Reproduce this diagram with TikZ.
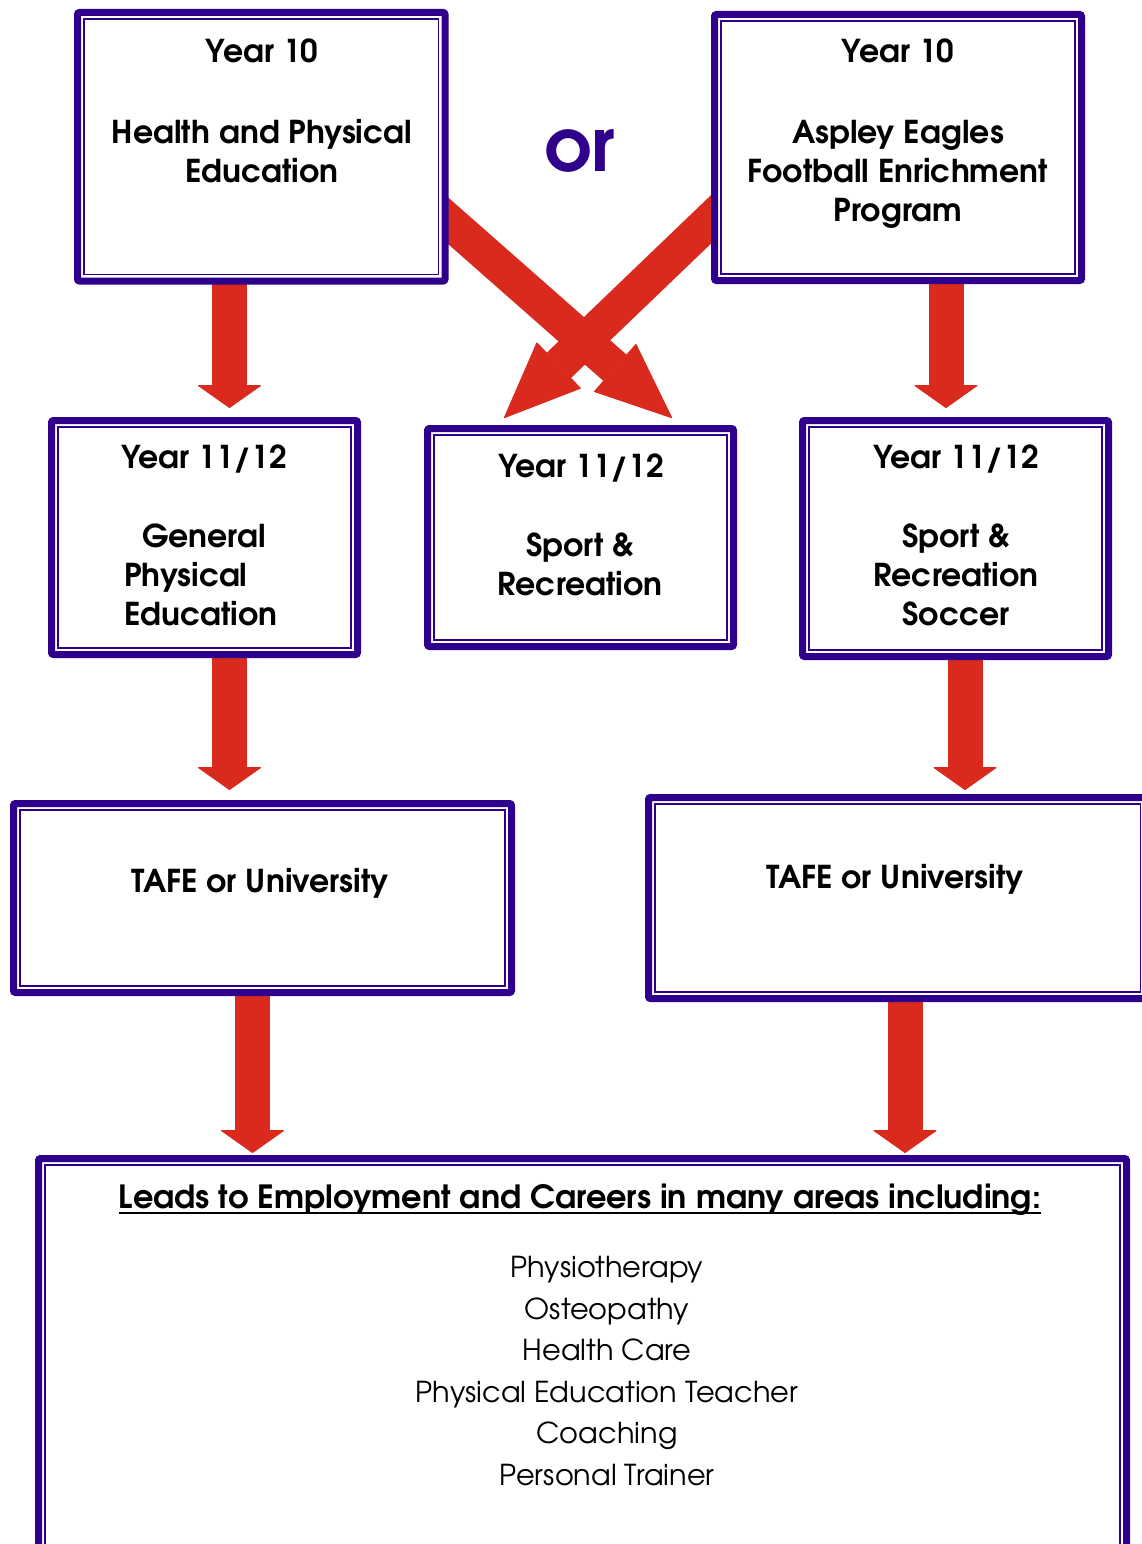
\documentclass[tikz,border=0pt]{standalone}
\usepackage{fontspec}
\setmainfont{TeX Gyre Adventor}
\usetikzlibrary{arrows.meta,backgrounds}
\definecolor{boxpurple}{RGB}{46,0,140}
\definecolor{arrowred}{RGB}{218,42,30}
\begin{document}
\begin{tikzpicture}[x=1pt,y=-1pt,
  box/.style={draw=boxpurple, line width=7pt, fill=white, rounded corners=2pt,
    inner sep=0pt, outer sep=0pt, anchor=north west},
  innerline/.style={draw=boxpurple, line width=1.8pt},
  bigarrow/.style={draw=arrowred, line width=35pt,
    -{Triangle[length=23pt,width=65pt,line width=1pt,round]}},
  crossarrow/.style={draw=arrowred, line width=35pt,
    -{Triangle[length=77pt,width=64pt,line width=1pt,round]}},
  lbl/.style={font=\bfseries\fontsize{31.5}{38}\selectfont, anchor=base, inner sep=0pt},
  lst/.style={font=\fontsize{28.8}{35}\selectfont, anchor=base, inner sep=0pt},
  ortext/.style={font=\bfseries\fontsize{74}{88}\selectfont, text=boxpurple, inner sep=0pt, anchor=base}
]
\useasboundingbox (0,0) rectangle (1142,1544);
\clip (0,0) rectangle (1142,1544);

% boxes
\node[box, minimum width=367.5pt, minimum height=268.5pt] (b1) at (77.5,12.5) {};
\node[box, minimum width=367pt, minimum height=266pt] (b2) at (714.5,14.5) {};
\node[box, minimum width=306pt, minimum height=234pt] (b3) at (51.5,420.5) {};
\node[box, minimum width=306pt, minimum height=218pt] (b4) at (427.5,428.5) {};
\node[box, minimum width=306pt, minimum height=236pt] (b5) at (802.5,420.5) {};
\node[box, minimum width=498pt, minimum height=189pt] (t1) at (13.5,803.5) {};
\node[box, minimum width=498.5pt, minimum height=201pt] (t2) at (648.5,797.5) {};
\node[box, minimum width=1088pt, minimum height=450pt] (bb) at (38.5,1158.5) {};

\foreach \n in {b1,b2,b3,b4,b5,t1,t2,bb}
  \draw[innerline] ([xshift=6.5pt,yshift=-6.5pt]\n.north west) rectangle ([xshift=-6.5pt,yshift=6.5pt]\n.south east);

% arrows
\coordinate (tipA) at (672,418);
\coordinate (tipB) at (504,418);
\begin{scope}[on background layer]
  \draw[bigarrow, shorten >=12.5pt] ([xshift=-31.75pt]b1.south) -- ([xshift=25pt]b3.north);
  \draw[bigarrow, shorten >=12.5pt] ([xshift=48pt]b2.south) -- ([xshift=-9.5pt]b5.north);
  \draw[bigarrow, shorten >=13.5pt] ([xshift=25pt]b3.south) -- ([xshift=-33pt]t1.north);
  \draw[bigarrow, shorten >=7.5pt] ([xshift=9.5pt]b5.south) -- ([xshift=67.25pt]t2.north);
  \draw[bigarrow, shorten >=5.5pt] ([xshift=-10pt]t1.south) -- ([xshift=-330pt]bb.north);
  \draw[bigarrow, shorten >=5.5pt] ([xshift=7.25pt]t2.south) -- ([xshift=322.5pt]bb.north);
  \draw[crossarrow] ([xshift=-22.5pt,yshift=-51.45pt]b1.east) -- (tipA);
  \draw[crossarrow] ([xshift=21.7pt,yshift=-47.7pt]b2.west) -- (tipB);
\end{scope}

% or
\node[ortext] (or) at (580,171) {or};

% texts
\node[lbl] (b1a) at (262,63) {Year 10};
\node[lbl] (b1b) at (262,143) {Health and Physical};
\node[lbl] (b1c) at (262,182) {Education};

\node[lbl] (b2a) at (898,63) {Year 10};
\node[lbl] (b2b) at (898,143) {Aspley Eagles};
\node[lbl] (b2c) at (898,182) {Football Enrichment};
\node[lbl] (b2d) at (898,221) {Program};

\node[lbl] (b3a) at (204,468) {Year 11/12};
\node[lbl] (b3b) at (204,547) {General};
\node[lbl, anchor=base west] (b3c) at (124,586) {Physical};
\node[lbl, anchor=base west] (b3d) at (124,625) {Education};

\node[lbl] (b4a) at (581,477) {Year 11/12};
\node[lbl] (b4b) at (580,556) {Sport \&};
\node[lbl] (b4c) at (580,595) {Recreation};

\node[lbl] (b5a) at (956,468) {Year 11/12};
\node[lbl] (b5b) at (956,547) {Sport \&};
\node[lbl] (b5c) at (956,586) {Recreation};
\node[lbl] (b5d) at (956,625) {Soccer};

\node[lbl] (t1a) at (260,892) {TAFE or University};
\node[lbl] (t2a) at (895,888) {TAFE or University};

\node[lbl, font=\bfseries\fontsize{32}{38}\selectfont] (head) at (580,1208) {Leads to Employment and Careers in many areas including:};
\draw[line width=2.5pt] ([yshift=-5pt]head.base west) -- ([yshift=-5pt]head.base east);

\node[lst] (l1) at (607,1277) {Physiotherapy};
\node[lst] (l2) at (607,1319) {Osteopathy};
\node[lst] (l3) at (607,1360) {Health Care};
\node[lst] (l4) at (607,1402) {Physical Education Teacher};
\node[lst] (l5) at (607,1443) {Coaching};
\node[lst] (l6) at (607,1485) {Personal Trainer};
\end{tikzpicture}
\end{document}
